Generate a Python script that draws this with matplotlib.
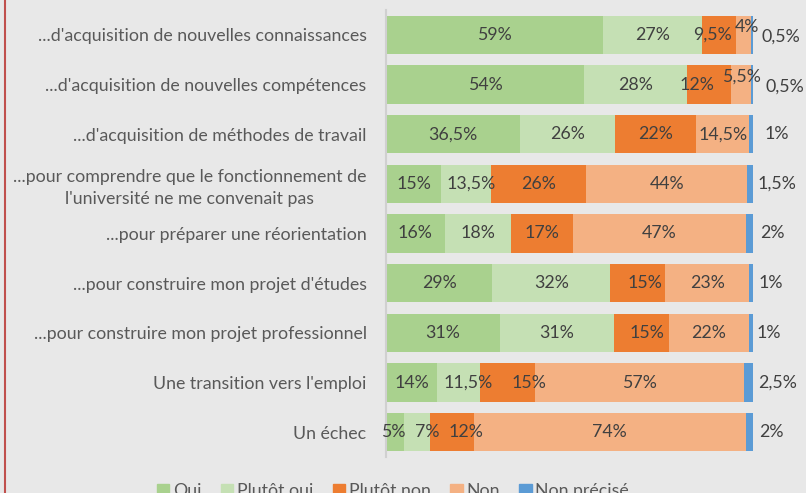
import matplotlib
matplotlib.use("Agg")
import matplotlib.pyplot as plt
from matplotlib.lines import Line2D
import numpy as np

categories = [
    "...d'acquisition de nouvelles connaissances",
    "...d'acquisition de nouvelles compétences",
    "...d'acquisition de méthodes de travail",
    "...pour comprendre que le fonctionnement de\nl'université ne me convenait pas",
    "...pour préparer une réorientation",
    "...pour construire mon projet d'études",
    "...pour construire mon projet professionnel",
    "Une transition vers l'emploi",
    "Un échec",
]
series_names = ["Oui", "Plutôt oui", "Plutôt non", "Non", "Non précisé"]
oui = [59, 54, 36.5, 15, 16, 29, 31, 14, 5]
plutot_oui = [27, 28, 26, 13.5, 18, 32, 31, 11.5, 7]
plutot_non = [9.5, 12, 22, 26, 17, 15, 15, 15, 12]
non = [4, 5.5, 14.5, 44, 47, 23, 22, 57, 74]
non_precise = [0.5, 0.5, 1, 1.5, 2, 1, 1, 2.5, 2]

colors = ["#A9D18E", "#C5E0B4", "#ED7D31", "#F4B183", "#5B9BD5"]
bg = "#E8E8E8"
FONT = ["Lato", "DejaVu Sans"]
plt.rcParams['font.family'] = FONT
FS = 12.8

W, H = 806, 493
fig = plt.figure(figsize=(W / 100, H / 100), dpi=100, facecolor=bg)
ax = fig.add_axes([386 / W, 1 - 457 / H, (753 - 386) / W, (457 - 10) / H])
ax.set_facecolor(bg)

data = [oui, plutot_oui, plutot_non, non, non_precise]
y = np.arange(len(categories))
left = np.zeros(len(categories))


def fmt(v):
    if float(v).is_integer():
        return f"{int(v)}%"
    return f"{v}".replace(".", ",") + "%"


# label nudges in pixels (dx, dy) keyed by (series, row)
nudge = {(3, 0): (3, -8), (3, 1): (0, -8), (2, 0): (-7, 0), (2, 1): (-12, 0),
         (1, 3): (5, 0), (2, 5): (8, 0), (2, 6): (6, 0), (1, 7): (10, 0),
         (2, 7): (22, 0), (1, 8): (10, 0), (2, 8): (14, 0), (0, 8): (-2, 0)}
# horizontal offsets (pixels) for "Non précisé" labels placed outside
out_off = [9, 13, 12, 5, 7, 6, 4, 5, 6]
PT = 0.72

for s, (vals, col) in enumerate(zip(data, colors)):
    vals = np.array(vals, dtype=float)
    ax.barh(y, vals, left=left, height=0.77, color=col, edgecolor="none")
    for i, v in enumerate(vals):
        if s < 4:
            dx, dy = nudge.get((s, i), (0, 0))
            ax.annotate(fmt(v), (left[i] + v / 2, y[i]), xytext=(dx * PT, -dy * PT),
                        textcoords="offset points", ha="center", va="center",
                        fontsize=FS, color="#404040")
        else:
            ax.annotate(fmt(v), (left[i] + v, y[i]),
                        xytext=(out_off[i] * PT, -2 * PT if i < 2 else 0),
                        textcoords="offset points", ha="left", va="center",
                        fontsize=FS, color="#404040")
    left += vals

ax.set_xlim(0, 100)
ax.set_ylim(len(categories) - 0.5, -0.5)
ax.set_yticks(y)
ax.set_yticklabels(categories, fontsize=FS, color="#595959", multialignment="center",
                   linespacing=1.45)
ax.tick_params(axis="y", length=0, pad=14)
ax.set_xticks([])
for sp in ["top", "right", "bottom"]:
    ax.spines[sp].set_visible(False)
ax.spines["left"].set_color("#D0D0D0")
ax.spines["left"].set_linewidth(1.5)

# red left border line
fig.add_artist(Line2D([5 / W, 5 / W], [0, 1], transform=fig.transFigure,
                      color="#C0504D", linewidth=1.5))

handles = [plt.Rectangle((0, 0), 1, 1, color=c) for c in colors]
fig.legend(handles, series_names, loc="center", bbox_to_anchor=(393 / W, 1 - 491 / H),
           ncol=5, frameon=False, fontsize=FS, handlelength=0.7, handleheight=0.7,
           handletextpad=0.2, columnspacing=1.1, labelcolor="#595959")

fig.savefig("out.png", dpi=100, facecolor=bg)
